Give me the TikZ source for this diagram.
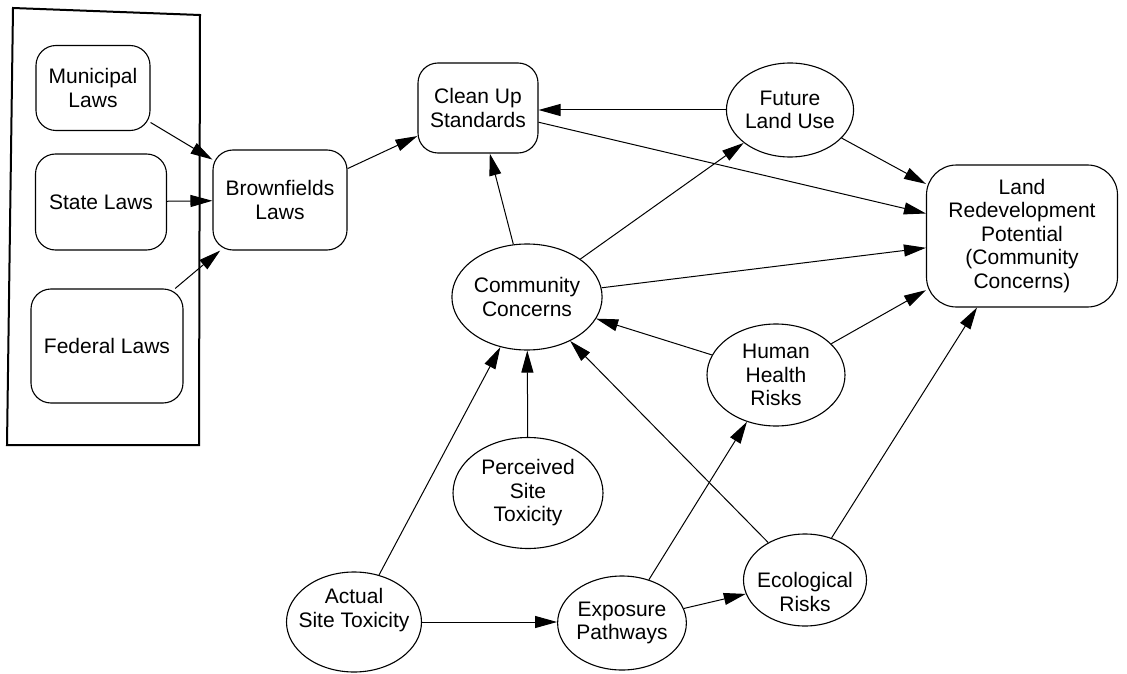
\documentclass[tikz,border=0pt]{standalone}
\usepackage{fontspec}
\setmainfont{Liberation Sans}
\usetikzlibrary{shapes.geometric,arrows.meta}
\begin{document}
\begin{tikzpicture}[x=1pt,y=-1pt,
  every node/.style={font=\fontsize{21}{23.5}\selectfont, align=center, inner sep=0pt},
  rbox/.style={draw, line width=1.1pt, rounded corners=20pt},
  oval/.style={draw, ellipse, line width=1.1pt},
  arr/.style={-{Triangle[length=22pt,width=12pt]}, line width=1pt}]
\useasboundingbox (0,0) rectangle (1127,674);

% frame round the three law boxes
\draw[line width=2pt] (13,8) -- (200,15) -- (199,445) -- (7,445) -- cycle;

% law boxes
\node[rbox, minimum width=114pt, minimum height=85pt] (mun) at (93,88) {Municipal\\Laws};
\node[rbox, minimum width=131pt, minimum height=96pt] (state) at (101,202) {State Laws};
\node[rbox, minimum width=152pt, minimum height=114pt] (fed) at (107,346) {Federal Laws};
\node[rbox, minimum width=134pt, minimum height=100pt] (brown) at (280,200) {Brownfields\\Laws};
\node[rbox, minimum width=120pt, minimum height=90pt] (clean) at (478,108) {Clean Up\\Standards};
\node[rbox, minimum width=191pt, minimum height=142pt, rounded corners=30pt] (lrp) at (1022,236)
  {Land\\Redevelopment\\Potential\\(Community\\Concerns)};

% ovals
\node[oval, minimum width=125pt, minimum height=94pt] (flu) at (790,110) {Future\\Land Use};
\node[oval, minimum width=140pt, minimum height=106pt] (cc) at (527,297) {Community\\Concerns};
\node[oval, minimum width=138pt, minimum height=102pt] (hhr) at (776,375) {Human\\Health\\Risks};
\node[oval, minimum width=150pt, minimum height=111pt] (pst) at (528,493) {Perceived\\Site\\Toxicity};
\node[oval, minimum width=135pt, minimum height=100pt,
      label={[yshift=12pt]center:Actual\\Site Toxicity}] (ast) at (354,622) {};
\node[oval, minimum width=128pt, minimum height=94pt] (exp) at (622,623) {Exposure\\Pathways};
\node[oval, minimum width=123pt, minimum height=92pt,
      label={[yshift=-12pt]center:Ecological\\Risks}] (eco) at (805,580) {};

% connectors
\draw[arr] (mun) -- (brown);
\draw[arr] (state) -- (brown);
\draw[arr] (fed) -- (brown);
\draw[arr] (brown) -- (clean);
\draw[arr] (flu) -- (flu -| clean.east);
\draw[arr] (clean) -- (lrp);
\draw[arr] (flu) -- (lrp);
\draw[arr] (cc) -- (clean);
\draw[arr] (cc) -- (flu);
\draw[arr] (cc) -- (lrp);
\draw[arr] (hhr) -- (cc);
\draw[arr] (hhr) -- (lrp);
\draw[arr] (pst) -- (cc);
\draw[arr] (ast) -- (cc);
\draw[arr] (ast) -- (ast -| exp.west);
\draw[arr] (exp) -- (hhr);
\draw[arr] (exp) -- (eco);
\draw[arr] (eco) -- (cc);
\draw[arr] (eco) -- (lrp);
\end{tikzpicture}
\end{document}
